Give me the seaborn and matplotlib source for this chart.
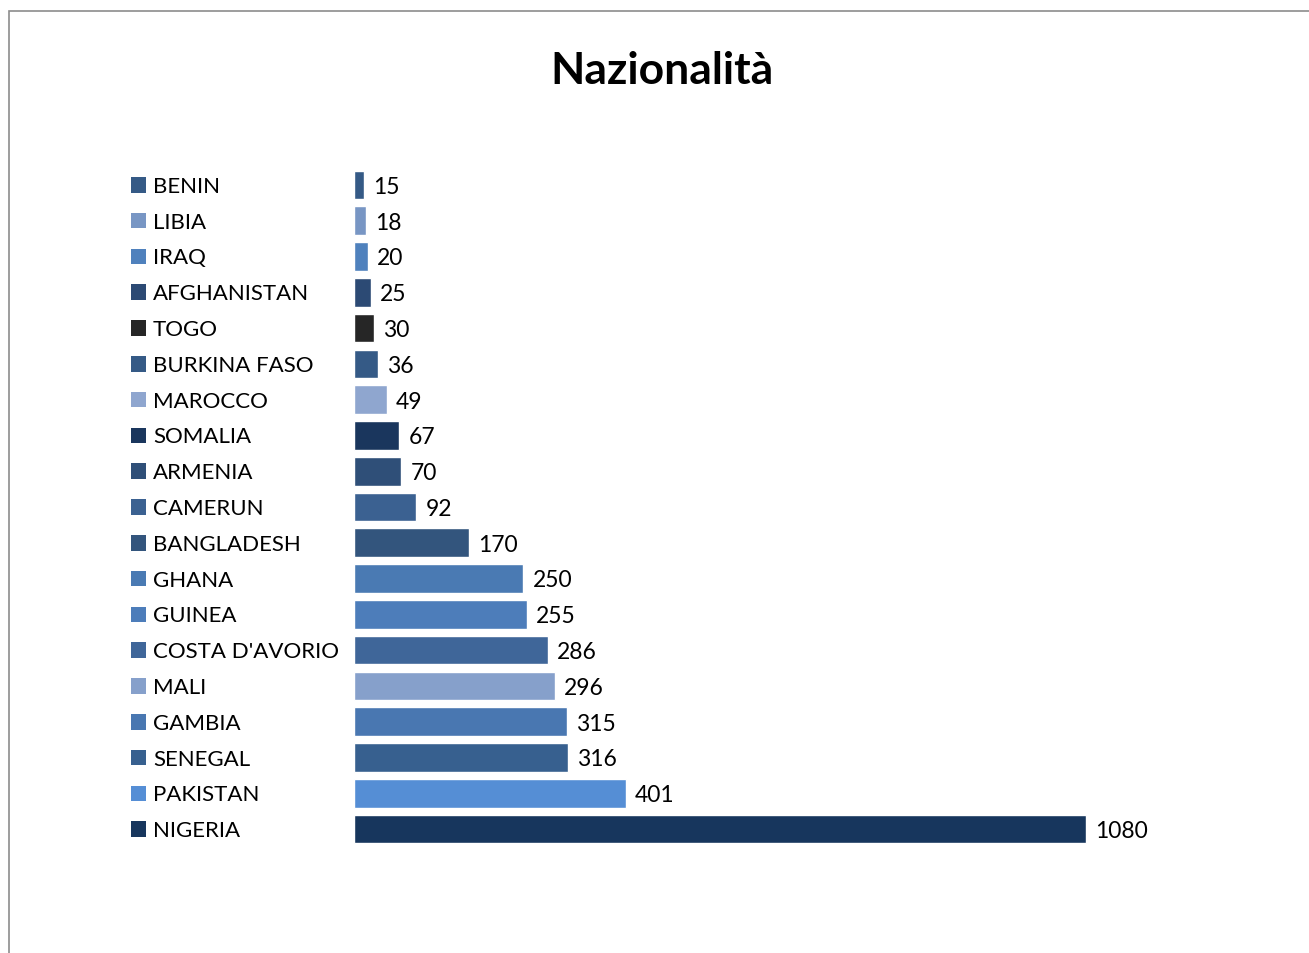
import seaborn as sns
import pandas as pd
import matplotlib.pyplot as plt
import matplotlib.transforms as mtransforms
from matplotlib.patches import Rectangle

# data (top to bottom)
countries = ["BENIN", "LIBIA", "IRAQ", "AFGHANISTAN", "TOGO", "BURKINA FASO",
             "MAROCCO", "SOMALIA", "ARMENIA", "CAMERUN", "BANGLADESH", "GHANA",
             "GUINEA", "COSTA D'AVORIO", "MALI", "GAMBIA", "SENEGAL", "PAKISTAN",
             "NIGERIA"]
counts = [15, 18, 20, 25, 30, 36, 49, 67, 70, 92, 170, 250, 255, 286, 296,
          315, 316, 401, 1080]
bar_colors = ["#355a86", "#7896c4", "#4f81bd", "#2c4a74", "#262626", "#355a86",
              "#8fa6cf", "#1a365d", "#2f4f78", "#3b6191", "#33557d", "#4a7ab3",
              "#4d7dba", "#3f6699", "#86a0cb", "#4977b1", "#37608f", "#558ed5",
              "#17365d"]

df = pd.DataFrame({"country": countries, "count": counts})
palette = dict(zip(countries, bar_colors))

sns.set_theme(style="white")
plt.rcParams["font.family"] = ["Lato", "DejaVu Sans"]

fig = plt.figure(figsize=(13.09, 9.54), dpi=100)
ax = fig.add_axes([354 / 1309, 1 - 848 / 954, 813 / 1309, (848 - 168) / 954])

sns.barplot(data=df, y="country", x="count", hue="country", palette=palette,
            legend=False, orient="h", width=0.8, saturation=1, ax=ax)

ax.set_xlim(0, 1200)
ax.set_ylim(len(countries) - 0.5, -0.5)
ax.set_xticks([])
ax.set_xlabel("")
ax.set_ylabel("")
for s in ax.spines.values():
    s.set_visible(False)

# value labels
for i, v in enumerate(counts):
    ax.annotate(str(v), (v, i), xytext=(6.5, -1), textcoords="offset points",
                va="center", ha="left", fontsize=16.5, color="black")

# legend-like labels on the left
ax.set_yticks(range(len(countries)))
ax.set_yticklabels(countries, fontsize=16, color="black")
ax.tick_params(axis="y", length=0, pad=0)
off = mtransforms.ScaledTranslation(-(354 - 153) / 100, 1 / 100, fig.dpi_scale_trans)
for lab in ax.get_yticklabels():
    lab.set_horizontalalignment("left")
    lab.set_transform(lab.get_transform() + off)

trans = mtransforms.blended_transform_factory(fig.transFigure, ax.transData)
ax.scatter([138.5 / 1309] * len(countries), range(len(countries)), marker="s",
           s=125, c=bar_colors, transform=trans, clip_on=False, linewidths=0)

fig.text(662 / 1309, 1 - 71 / 954, "Nazionalità", ha="center", va="center",
         fontsize=32, fontweight="bold", color="black")

# chart area border (only top/left visible in the crop)
fig.patches.append(Rectangle((8.5 / 1309, -0.1), 1.2, 1 - 11.5 / 954 + 0.1,
                             transform=fig.transFigure, fill=False,
                             edgecolor="#8c8c8c", linewidth=1.2))

fig.savefig("out.png", dpi=100)
